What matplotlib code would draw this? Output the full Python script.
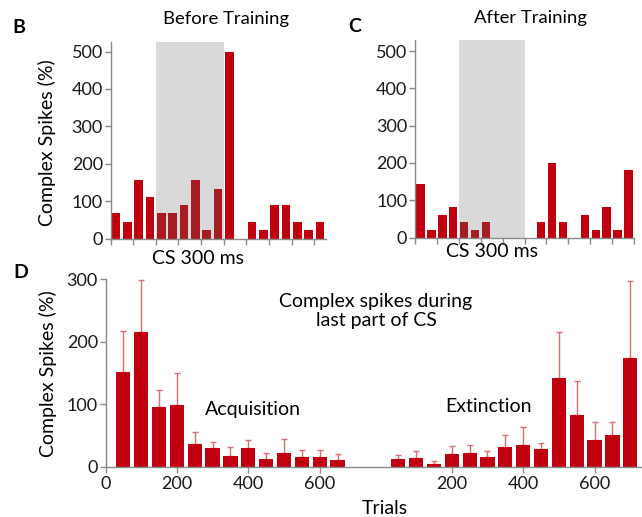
import matplotlib
matplotlib.use("Agg")
import matplotlib.pyplot as plt
import numpy as np

plt.rcParams['font.family'] = ['Lato', 'DejaVu Sans']

# Peri-CS histograms, 50 ms bins, CS onset at 0 ms
bin_ms = 50
before_vals = [67, 44, 156, 111, 67, 67, 89, 156, 22, 133, 500, 0, 44, 22, 89, 89, 44, 22, 44]
after_vals = [143, 20, 61, 82, 41, 20, 41, 0, 0, 0, 0, 41, 200, 41, 0, 61, 20, 82, 20, 182]
cs_start, cs_end = 0, 300

# Complex spikes during last part of CS, per 50-trial block
acq_trials = [50, 100, 150, 200, 250, 300, 350, 400, 450, 500, 550, 600, 650]
acq_mean = [151, 216, 95, 98, 37, 30, 17, 30, 12, 22, 16, 16, 10]
acq_err = [66, 82, 28, 51, 18, 9, 14, 13, 10, 22, 10, 10, 10]
ext_trials = [50, 100, 150, 200, 250, 300, 350, 400, 450, 500, 550, 600, 650, 700]
ext_mean = [12, 14, 5, 20, 22, 16, 31, 34, 28, 141, 83, 42, 51, 173]
ext_err = [7, 11, 4, 13, 12, 9, 20, 29, 10, 74, 54, 29, 20, 124]
ext_offset = 770

RED = '#C1000F'
RED_DARK = '#A51D23'
GRAY_SPAN = '#D9D9D9'
SPINE = '#8a8a8a'
ERR = '#DA6E74'
TICK_FS = 13
TEXT_FS = 14

fig = plt.figure(figsize=(6.42, 5.17), dpi=100)


def style_axes(ax):
    for side in ['top', 'right']:
        ax.spines[side].set_visible(False)
    for side in ['left', 'bottom']:
        ax.spines[side].set_color(SPINE)
        ax.spines[side].set_linewidth(1.0)
    ax.tick_params(direction='out', length=4, width=1, color=SPINE,
                   labelsize=TICK_FS, labelcolor='#1a1a1a', pad=1.5)


def histogram(ax, vals, ylim_top):
    centers = np.arange(len(vals)) * bin_ms - 4 * bin_ms + bin_ms / 2
    ax.axvspan(cs_start, cs_end, color=GRAY_SPAN, lw=0, zorder=0)
    colors = [RED_DARK if cs_start < c < cs_end else RED for c in centers]
    ax.bar(centers, vals, width=bin_ms * 0.76, color=colors, zorder=2)
    ax.set_xlim(centers[0] - bin_ms / 2, centers[-1] + bin_ms / 2)
    ax.set_ylim(0, ylim_top)
    ax.set_xticks(np.arange(-200, centers[-1] + bin_ms / 2 + 1, 100))
    ax.set_xticklabels([])
    ax.set_yticks([0, 100, 200, 300, 400, 500])
    style_axes(ax)


def fig_text(x, y, s, **kw):
    # position in pixels from the top-left corner
    kw.setdefault('fontsize', TEXT_FS)
    fig.text(x / 642, 1 - y / 517, s, ha='center', va='center', **kw)


# B: before training
axB = fig.add_axes([110.5 / 642, 1 - 238.5 / 517, 215 / 642, 197 / 517])
histogram(axB, before_vals, 527)

# C: after training
axC = fig.add_axes([415 / 642, 1 - 237.5 / 517, 219 / 642, 197.5 / 517])
histogram(axC, after_vals, 530)

fig_text(226.5, 19, 'Before Training', fontsize=13.3)
fig_text(531, 18, 'After Training', fontsize=13.3)
fig_text(197.5, 259, 'CS 300 ms')
fig_text(491.5, 251, 'CS 300 ms')
fig_text(47, 143, 'Complex Spikes (%)', rotation=90)

# D: acquisition and extinction on one trial axis
axD = fig.add_axes([105.5 / 642, 1 - 466.7 / 517, 535.5 / 642, 187.7 / 517])
ext_x = [t + ext_offset for t in ext_trials]
for xs, m, e in [(acq_trials, acq_mean, acq_err), (ext_x, ext_mean, ext_err)]:
    axD.bar(xs, m, width=40, color=RED, zorder=2)
    axD.errorbar(xs, m, yerr=[np.zeros(len(e)), e], fmt='none', ecolor=ERR,
                 elinewidth=1, capsize=2.5, capthick=1, zorder=1)
axD.set_xlim(0, 1500)
axD.set_ylim(0, 300)
axD.set_yticks([0, 100, 200, 300])
xt = [0, 200, 400, 600] + [ext_offset + t for t in (200, 400, 600)]
axD.set_xticks(xt)
axD.set_xticklabels(['0', '200', '400', '600', '200', '400', '600'])
style_axes(axD)
axD.tick_params(axis='x', pad=3)

fig_text(48, 374, 'Complex Spikes (%)', rotation=90)
fig_text(385, 508, 'Trials')
fig_text(376, 311, 'Complex spikes during\nlast part of CS', linespacing=1.2)
fig_text(253, 410, 'Acquisition')
fig_text(488.5, 407, 'Extinction')

# panel letters
for letter, x, y in [('B', 19, 27.5), ('C', 355, 26), ('D', 21, 272)]:
    fig_text(x, y, letter, fontsize=14, fontweight='bold')

fig.savefig('out.png', dpi=100)
